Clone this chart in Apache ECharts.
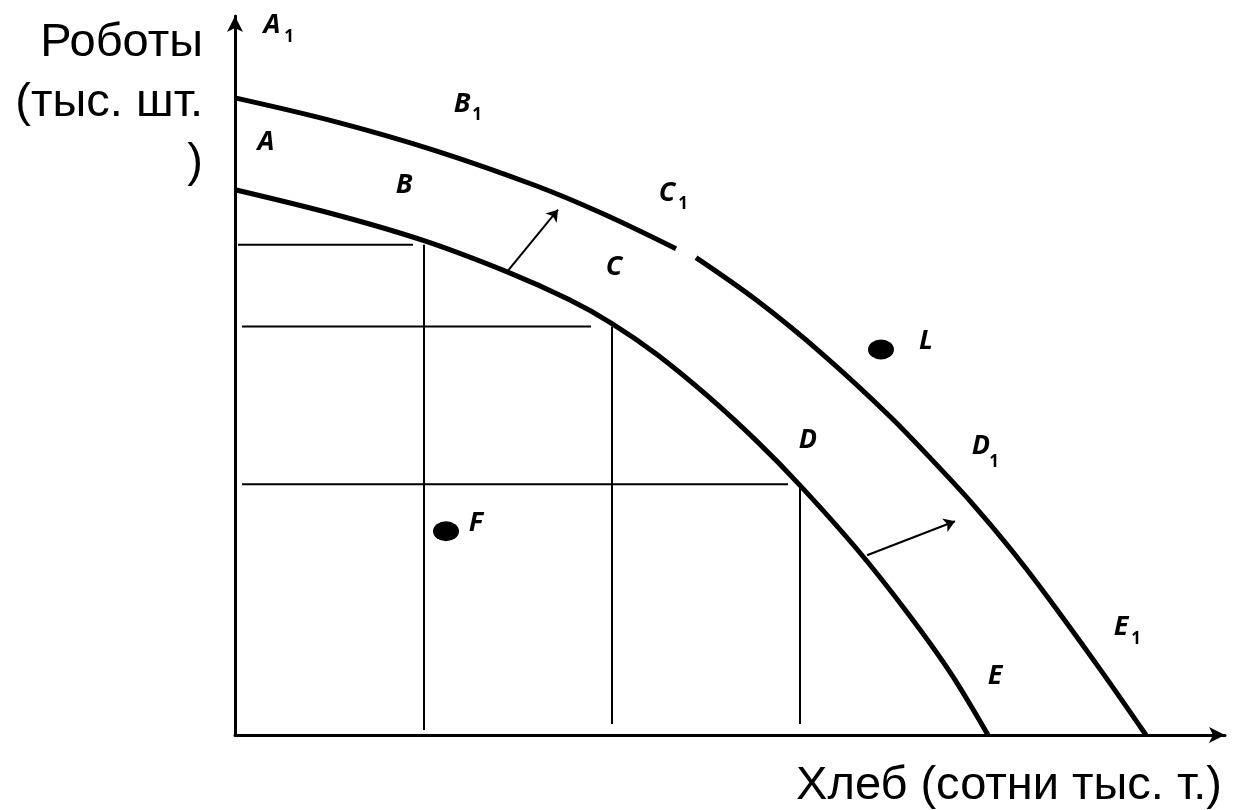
<!DOCTYPE html>
<html>
<head>
<meta charset="utf-8">
<script src="https://cdn.jsdelivr.net/npm/echarts@6/dist/echarts.min.js"></script>
<style>
html, body { margin: 0; padding: 0; background: #fff; }
#chart1 { width: 1234px; height: 810px; }
</style>
</head>
<body>
<div id="chart1"></div>
<script>
// frontier curves (x = bread, y = robots), outer one is broken near C1
const innerCurve = [[0, 546], [101, 521], [189, 495], [274, 463], [334, 436], [377, 412], [422, 381],
    [472, 340], [522, 294], [565, 250], [622, 186], [672, 123], [715, 63], [753, 0]];
const outerCurveA = [[0, 638], [101, 614], [201, 585], [301, 550], [368, 522], [441, 487]];
const outerCurveB = [[461, 478], [522, 435], [588, 381], [655, 319], [705, 267], [738, 231],
    [775, 187], [812, 139], [865, 66], [911, 0]];

// helper lines: [y, xFrom, xTo] and [x, yFrom, yTo]
const hLines = [[491, 3, 178], [409, 7, 356], [251, 7, 553]];
const vLines = [[189, 491, 5], [377, 409, 11], [565, 249, 11]];

// shift arrows
const shiftArrows = [[[273, 465], [323, 526]], [[632, 180], [720, 214]]];

// points F and L
const dots = [[211, 204], [646, 386]];

// point labels
const labelNames = ['A', 'B', 'A', 'B', 'C', 'C', 'L', 'D', 'D', 'F', 'E', 'E'];
const labelX = [37, 227, 31, 169, 432, 379, 691, 573, 746, 241, 760, 886];
const labelY = [711, 632, 594, 550, 542, 468, 394, 295, 289, 212, 59, 108];
// subscripts "1"
const subNames = ['1', '1', '1', '1', '1'];
const subX = [54, 242, 448, 759, 901];
const subY = [699, 621, 532, 273, 96];

const xTitle = 'Хлеб (сотни тыс. т.)';
const yTitle = 'Роботы\n(тыс. шт.\n)';

let dom1 = document.getElementById('chart1');
let Chart1 = echarts.init(dom1);

let series = [];

// thin helper lines
hLines.forEach(function (h) {
    series.push({
        type: 'line', showSymbol: false, silent: true,
        lineStyle: { color: '#000', width: 2 },
        data: [[h[1], h[0]], [h[2], h[0]]]
    });
});
vLines.forEach(function (v) {
    series.push({
        type: 'line', showSymbol: false, silent: true,
        lineStyle: { color: '#000', width: 2 },
        data: [[v[0], v[1]], [v[0], v[2]]]
    });
});

// curves
[innerCurve, outerCurveA, outerCurveB].forEach(function (c) {
    series.push({
        type: 'line', showSymbol: false, smooth: 0.35, silent: true,
        lineStyle: { color: '#000', width: 5 },
        data: c
    });
});

series.push({
    type: 'lines',
    coordinateSystem: 'cartesian2d',
    symbol: ['none', 'arrow'],
    symbolSize: 11,
    lineStyle: { color: '#000', width: 2, opacity: 1 },
    data: shiftArrows.map(function (a) { return { coords: a }; })
});

series.push({
    type: 'scatter',
    symbol: 'circle',
    symbolSize: [26, 20],
    itemStyle: { color: '#000', opacity: 1 },
    data: dots
});

series.push({
    type: 'scatter',
    symbolSize: 10,
    itemStyle: { opacity: 0 },
    label: {
        show: true, position: 'inside', opacity: 1,
        formatter: function (p) { return labelNames[p.dataIndex]; },
        fontFamily: 'Open Sans', fontWeight: 'bold', fontStyle: 'italic',
        fontSize: 27, color: '#000'
    },
    data: labelX.map(function (x, i) { return [x, labelY[i]]; })
});

series.push({
    type: 'scatter',
    symbolSize: 10,
    itemStyle: { opacity: 0 },
    label: {
        show: true, position: 'inside', opacity: 1,
        formatter: function (p) { return subNames[p.dataIndex]; },
        fontFamily: 'Open Sans', fontWeight: 'bold',
        fontSize: 17, color: '#000'
    },
    data: subX.map(function (x, i) { return [x, subY[i]]; })
});

let option1 = {
    animation: false,
    backgroundColor: '#fff',
    grid: { left: 235, right: 9, top: 16, bottom: 74 },
    xAxis: {
        type: 'value', min: 0, max: 990,
        name: xTitle,
        nameLocation: 'end',
        nameGap: -3,
        nameTextStyle: {
            fontFamily: 'Liberation Sans', fontSize: 47, color: '#000',
            align: 'right', verticalAlign: 'top', padding: [28, 0, 0, 0]
        },
        axisLine: {
            show: true, symbol: ['none', 'arrow'], symbolSize: [12, 16],
            lineStyle: { color: '#000', width: 3 }
        },
        axisTick: { show: false },
        axisLabel: { show: false },
        splitLine: { show: false }
    },
    yAxis: {
        type: 'value', min: 0, max: 720,
        name: yTitle,
        nameLocation: 'end',
        nameGap: 3,
        nameTextStyle: {
            fontFamily: 'Liberation Sans', fontSize: 47, color: '#000', lineHeight: 60,
            align: 'right', verticalAlign: 'top', padding: [0, 32, 0, 0]
        },
        axisLine: {
            show: true, symbol: ['none', 'arrow'], symbolSize: [12, 16],
            lineStyle: { color: '#000', width: 3 }
        },
        axisTick: { show: false },
        axisLabel: { show: false },
        splitLine: { show: false }
    },
    series: series
};

Chart1.setOption(option1);
</script>
</body>
</html>
